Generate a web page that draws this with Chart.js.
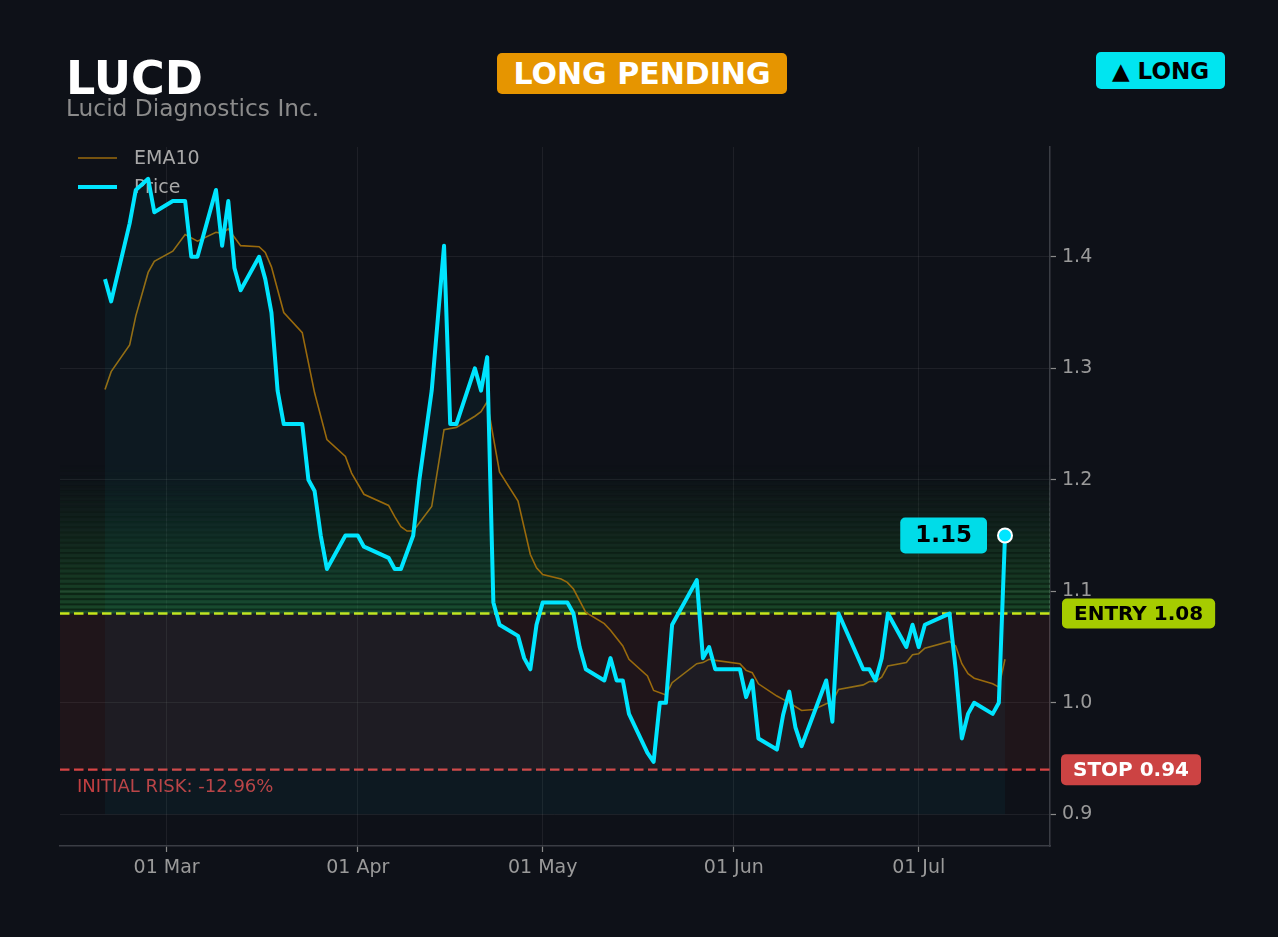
<!DOCTYPE html>
<html>
<head>
<meta charset="utf-8">
<title>LUCD</title>
<script src="https://cdn.jsdelivr.net/npm/chart.js@4.4.1/dist/chart.umd.min.js"></script>
<style>
  html, body { margin: 0; padding: 0; background: #0e1118; overflow: hidden; }
  #wrap { position: relative; width: 1278px; height: 937px; font-family: 'DejaVu Sans', sans-serif; }
  #chart { position: absolute; left: 0; top: 0; }
  #ticker { position: absolute; left: 66px; top: 55px; font-size: 46px; line-height: 46px; font-weight: bold; color: #ffffff; }
  #company { position: absolute; left: 66px; top: 96px; font-size: 23.3px; line-height: 23px; color: #8b8b8b; }
  .badge { position: absolute; display: flex; align-items: center; justify-content: center; border-radius: 5px; font-weight: bold; }
  #status { left: 497px; top: 53px; width: 290px; height: 41px; background: #e69500; color: #ffffff; font-size: 30px; }
  #side { left: 1096px; top: 52px; width: 129px; height: 37px; background: #00e5f0; color: #000000; font-size: 23px; }
</style>
</head>
<body>
<div id="wrap">
  <canvas id="chart" width="1278" height="937"></canvas>
  <div id="ticker">LUCD</div>
  <div id="company">Lucid Diagnostics Inc.</div>
  <div id="status" class="badge">LONG PENDING</div>
  <div id="side" class="badge">▲ LONG</div>
</div>
<script>
// price series
const priceDates = [
  '2025-02-19', '2025-02-20', '2025-02-23', '2025-02-24', '2025-02-26', '2025-02-27',
  '2025-03-02', '2025-03-04', '2025-03-05', '2025-03-06', '2025-03-09', '2025-03-10',
  '2025-03-11', '2025-03-12', '2025-03-13', '2025-03-16', '2025-03-17', '2025-03-18',
  '2025-03-19', '2025-03-20', '2025-03-23', '2025-03-24', '2025-03-25', '2025-03-26',
  '2025-03-27', '2025-03-30', '2025-04-01', '2025-04-02', '2025-04-06', '2025-04-07',
  '2025-04-08', '2025-04-10', '2025-04-11', '2025-04-13', '2025-04-15', '2025-04-16',
  '2025-04-17', '2025-04-20', '2025-04-21', '2025-04-22', '2025-04-23', '2025-04-24',
  '2025-04-27', '2025-04-28', '2025-04-29', '2025-04-30', '2025-05-01', '2025-05-05',
  '2025-05-06', '2025-05-07', '2025-05-08', '2025-05-11', '2025-05-12', '2025-05-13',
  '2025-05-14', '2025-05-15', '2025-05-18', '2025-05-19', '2025-05-20', '2025-05-21',
  '2025-05-22', '2025-05-26', '2025-05-27', '2025-05-28', '2025-05-29', '2025-06-02',
  '2025-06-03', '2025-06-04', '2025-06-05', '2025-06-08', '2025-06-09', '2025-06-10',
  '2025-06-11', '2025-06-12', '2025-06-16', '2025-06-17', '2025-06-18', '2025-06-22',
  '2025-06-23', '2025-06-24', '2025-06-25', '2025-06-26', '2025-06-29', '2025-06-30',
  '2025-07-01', '2025-07-02', '2025-07-06', '2025-07-07', '2025-07-08', '2025-07-09',
  '2025-07-10', '2025-07-13', '2025-07-14', '2025-07-15'
];
const priceValues = [
  1.38, 1.36, 1.43, 1.46, 1.47, 1.44,
  1.45, 1.45, 1.40, 1.40, 1.46, 1.41,
  1.45, 1.39, 1.37, 1.40, 1.38, 1.35,
  1.28, 1.25, 1.25, 1.20, 1.19, 1.15,
  1.12, 1.15, 1.15, 1.14, 1.13, 1.12,
  1.12, 1.15, 1.20, 1.28, 1.41, 1.25,
  1.25, 1.30, 1.28, 1.31, 1.09, 1.07,
  1.06, 1.04, 1.03, 1.07, 1.09, 1.09,
  1.08, 1.05, 1.03, 1.02, 1.04, 1.02,
  1.02, 0.99, 0.955, 0.947, 1.00, 1.00,
  1.07, 1.11, 1.04, 1.05, 1.03, 1.03,
  1.005, 1.02, 0.968, 0.958, 0.989, 1.01,
  0.978, 0.961, 1.02, 0.983, 1.08, 1.03,
  1.03, 1.02, 1.04, 1.08, 1.05, 1.07,
  1.05, 1.07, 1.08, 1.03, 0.968, 0.99,
  1.00, 0.99, 1.00, 1.15
];

// EMA10 series
const emaDates = [
  '2025-02-19', '2025-02-20', '2025-02-23', '2025-02-24', '2025-02-26', '2025-02-27',
  '2025-03-02', '2025-03-04', '2025-03-05', '2025-03-06', '2025-03-09', '2025-03-10',
  '2025-03-11', '2025-03-13', '2025-03-16', '2025-03-17', '2025-03-18', '2025-03-20',
  '2025-03-23', '2025-03-25', '2025-03-27', '2025-03-30', '2025-03-31', '2025-04-02',
  '2025-04-06', '2025-04-07', '2025-04-08', '2025-04-09', '2025-04-10', '2025-04-13',
  '2025-04-15', '2025-04-17', '2025-04-20', '2025-04-21', '2025-04-22', '2025-04-23',
  '2025-04-24', '2025-04-27', '2025-04-29', '2025-04-30', '2025-05-01', '2025-05-04',
  '2025-05-05', '2025-05-06', '2025-05-08', '2025-05-11', '2025-05-12', '2025-05-14',
  '2025-05-15', '2025-05-18', '2025-05-19', '2025-05-21', '2025-05-22', '2025-05-26',
  '2025-05-27', '2025-05-28', '2025-05-29', '2025-06-02', '2025-06-03', '2025-06-04',
  '2025-06-05', '2025-06-08', '2025-06-09', '2025-06-10', '2025-06-12', '2025-06-14',
  '2025-06-16', '2025-06-17', '2025-06-18', '2025-06-22', '2025-06-23', '2025-06-24',
  '2025-06-25', '2025-06-26', '2025-06-29', '2025-06-30', '2025-07-01', '2025-07-02',
  '2025-07-06', '2025-07-07', '2025-07-08', '2025-07-09', '2025-07-10', '2025-07-13',
  '2025-07-14', '2025-07-15'
];
const emaValues = [
  1.281, 1.297, 1.321, 1.347, 1.386, 1.396,
  1.405, 1.420, 1.417, 1.414, 1.422, 1.421,
  1.425, 1.410, 1.409, 1.404, 1.391, 1.350,
  1.332, 1.278, 1.236, 1.221, 1.206, 1.187,
  1.177, 1.167, 1.158, 1.154, 1.154, 1.176,
  1.245, 1.247, 1.257, 1.261, 1.270, 1.238,
  1.207, 1.181, 1.133, 1.121, 1.115, 1.111,
  1.108, 1.102, 1.081, 1.071, 1.065, 1.051,
  1.039, 1.024, 1.011, 1.007, 1.018, 1.035,
  1.036, 1.039, 1.038, 1.035, 1.029, 1.027,
  1.017, 1.006, 1.003, 1.000, 0.993, 0.994,
  0.999, 1.001, 1.012, 1.016, 1.019, 1.019,
  1.023, 1.033, 1.036, 1.043, 1.044, 1.049,
  1.055, 1.051, 1.035, 1.026, 1.022, 1.017,
  1.014, 1.039
];

const xTickDates = ['2025-03-01', '2025-04-01', '2025-05-01', '2025-06-01', '2025-07-01'];
const xTickLabels = ['01 Mar', '01 Apr', '01 May', '01 Jun', '01 Jul'];
const yTickValues = [0.9, 1.0, 1.1, 1.2, 1.3, 1.4];

const entryPrice = 1.08;
const stopPrice = 0.94;
const fillBase = 0.9;

// colours
const CYAN = '#00e5ff';
const GOLD = '#9a6a0c';
const ENTRY_LINE = '#c8e61a';
const ENTRY_BOX = '#a6cc00';
const STOP_LINE = '#d84444';
const STOP_BOX = '#cc4343';
const FONT = "'DejaVu Sans', sans-serif";

const toDay = s => (Date.parse(s + 'T00:00:00Z') - Date.parse('2025-01-01T00:00:00Z')) / 86400000;

const priceData = priceDates.map((d, i) => ({ x: toDay(d), y: priceValues[i] }));
const emaData = emaDates.map((d, i) => ({ x: toDay(d), y: emaValues[i] }));
const xTicks = xTickDates.map(toDay);

// matplotlib-like 5% margins
const xFirst = priceData[0].x;
const xLast = priceData[priceData.length - 1].x;
const xPad = (xLast - xFirst) * 0.05;
const yLow = fillBase;
const yHigh = Math.max(...priceValues);
const yPad = (yHigh - yLow) * 0.05;

function roundBox(ctx, x, y, w, h, r) {
  ctx.beginPath();
  if (ctx.roundRect) ctx.roundRect(x, y, w, h, r);
  else ctx.rect(x, y, w, h);
  ctx.fill();
}

function tagLabel(ctx, text, left, cy, bg, fg, size, padX, h) {
  ctx.font = 'bold ' + size + 'px ' + FONT;
  const w = ctx.measureText(text).width + padX * 2;
  ctx.fillStyle = bg;
  roundBox(ctx, left, cy - h / 2, w, h, 5);
  ctx.fillStyle = fg;
  ctx.textAlign = 'center';
  ctx.textBaseline = 'middle';
  ctx.fillText(text, left + w / 2, cy + 1);
  return w;
}

const zonesPlugin = {
  id: 'zones',
  beforeDatasetsDraw(chart) {
    const { ctx, chartArea: a, scales: { y } } = chart;
    ctx.save();
    ctx.beginPath();
    ctx.rect(a.left, a.top, a.right - a.left, a.bottom - a.top);
    ctx.clip();

    // risk zone between stop and entry
    const yEntry = y.getPixelForValue(entryPrice);
    const yStop = y.getPixelForValue(stopPrice);
    ctx.fillStyle = 'rgba(220,70,60,0.085)';
    ctx.fillRect(a.left, yEntry, a.right - a.left, yStop - yEntry);

    // striped green profit zone fading upwards
    const step = 0.0046;
    const n = 29;
    for (let i = 0; i < n; i++) {
      const v0 = entryPrice + i * step;
      const p0 = y.getPixelForValue(v0);
      const p1 = y.getPixelForValue(v0 + step);
      const k = 1 - i / n;
      ctx.fillStyle = 'rgba(50,175,70,' + (0.34 * Math.pow(k, 1.3)).toFixed(3) + ')';
      ctx.fillRect(a.left, p1, a.right - a.left, p0 - p1);
      ctx.fillStyle = 'rgba(6,16,10,' + (0.6 * k).toFixed(3) + ')';
      ctx.fillRect(a.left, p1, a.right - a.left, 2);
    }

    // entry / stop lines
    ctx.lineWidth = 2.4;
    ctx.setLineDash([9.5, 4.5]);
    ctx.strokeStyle = ENTRY_LINE;
    ctx.beginPath();
    ctx.moveTo(a.left, yEntry);
    ctx.lineTo(a.right, yEntry);
    ctx.stroke();
    ctx.strokeStyle = STOP_LINE;
    ctx.beginPath();
    ctx.moveTo(a.left, yStop);
    ctx.lineTo(a.right, yStop);
    ctx.stroke();
    ctx.setLineDash([]);

    // initial risk note
    const risk = (stopPrice - entryPrice) / entryPrice * 100;
    ctx.font = '18px ' + FONT;
    ctx.fillStyle = '#c23f41';
    ctx.textAlign = 'left';
    ctx.textBaseline = 'middle';
    ctx.fillText('INITIAL RISK: ' + risk.toFixed(2) + '%', a.left + 17, yStop + 18);
    ctx.restore();

    // legend (price line may cross it, as in the original)
    ctx.save();
    const items = [chart.data.datasets[1], chart.data.datasets[0]];
    items.forEach((ds, i) => {
      const ly = 158 + i * 29;
      ctx.strokeStyle = ds.borderColor;
      ctx.lineWidth = ds.borderWidth;
      ctx.beginPath();
      ctx.moveTo(a.left + 18, ly);
      ctx.lineTo(a.left + 57, ly);
      ctx.stroke();
      ctx.font = '19px ' + FONT;
      ctx.fillStyle = '#a8a8a8';
      ctx.textAlign = 'left';
      ctx.textBaseline = 'middle';
      ctx.fillText(ds.label, a.left + 74, ly + 1);
    });
    ctx.restore();
  },
  afterDraw(chart) {
    const { ctx, chartArea: a, scales: { y } } = chart;
    ctx.save();
    tagLabel(ctx, 'ENTRY ' + entryPrice.toFixed(2), a.right + 12, y.getPixelForValue(entryPrice), ENTRY_BOX, '#000000', 20, 12, 30);
    tagLabel(ctx, 'STOP ' + stopPrice.toFixed(2), a.right + 11, y.getPixelForValue(stopPrice), STOP_BOX, '#ffffff', 20, 12, 31);

    // last price tag
    const meta = chart.getDatasetMeta(0);
    const last = meta.data[meta.data.length - 1];
    const text = priceValues[priceValues.length - 1].toFixed(2);
    ctx.font = 'bold 23px ' + FONT;
    const w = ctx.measureText(text).width + 30;
    tagLabel(ctx, text, last.x - 18 - w, last.y, '#00dce8', '#000000', 23, 15, 36);
    ctx.restore();
  }
};

new Chart(document.getElementById('chart'), {
  type: 'line',
  data: {
    datasets: [
      {
        label: 'Price',
        data: priceData,
        borderColor: CYAN,
        borderWidth: 4,
        borderJoinStyle: 'round',
        backgroundColor: 'rgba(0,229,255,0.04)',
        fill: { value: fillBase },
        tension: 0,
        pointRadius: c => (c.dataIndex === priceData.length - 1 ? 7 : 0),
        pointBackgroundColor: CYAN,
        pointBorderColor: '#ffffff',
        pointBorderWidth: 2
      },
      {
        label: 'EMA10',
        data: emaData,
        borderColor: GOLD,
        borderWidth: 1.6,
        fill: false,
        tension: 0,
        pointRadius: 0
      }
    ]
  },
  options: {
    responsive: false,
    animation: false,
    layout: { padding: { left: 60, top: 147, right: 0, bottom: 0 } },
    plugins: {
      legend: { display: false },
      title: { display: false },
      tooltip: { enabled: false }
    },
    scales: {
      x: {
        type: 'linear',
        min: xFirst - xPad,
        max: xLast + xPad,
        afterBuildTicks: s => { s.ticks = xTicks.map(v => ({ value: v })); },
        afterFit: s => { s.height = 91; },
        ticks: {
          autoSkip: false,
          maxRotation: 0,
          padding: 5,
          color: '#9a9a9a',
          font: { family: FONT, size: 19 },
          callback: (v, i) => xTickLabels[i]
        },
        grid: {
          color: 'rgba(255,255,255,0.065)',
          tickColor: '#8a8a8a',
          tickLength: 6,
          tickWidth: 1.2
        },
        border: { display: true, color: '#3a3d44', width: 1.5 }
      },
      y: {
        position: 'right',
        min: yLow - yPad,
        max: yHigh + yPad,
        afterBuildTicks: s => { s.ticks = yTickValues.map(v => ({ value: v })); },
        afterFit: s => { s.width = 228; },
        ticks: {
          padding: 6,
          color: '#9a9a9a',
          font: { family: FONT, size: 19 },
          callback: v => v.toFixed(1)
        },
        grid: {
          color: 'rgba(255,255,255,0.065)',
          tickColor: '#8a8a8a',
          tickLength: 6,
          tickWidth: 1.2
        },
        border: { display: true, color: '#3a3d44', width: 1.5 }
      }
    }
  },
  plugins: [zonesPlugin]
});
</script>
</body>
</html>
